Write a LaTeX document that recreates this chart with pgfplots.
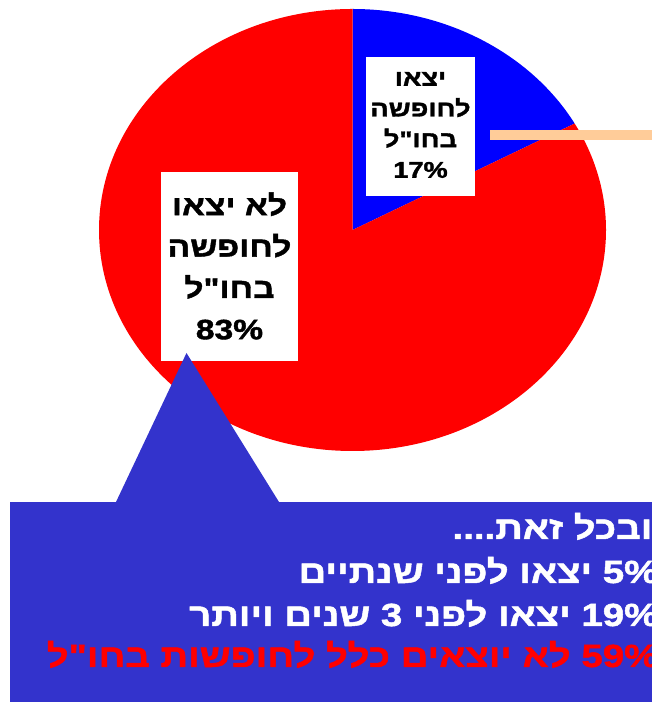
\documentclass[border=0pt]{standalone}
\usepackage{pgfplots}
\pgfplotsset{compat=1.18}
\usepackage{fontspec}
\setmainfont{Liberation Sans}
\newfontfamily\heb[Script=Hebrew, FakeStretch=1.2, FakeBold=1.5]{Liberation Sans Bold}
\TeXXeTstate=1
\definecolor{pieRed}{RGB}{255,0,0}
\definecolor{pieBlue}{RGB}{0,0,255}
\definecolor{boxBlue}{RGB}{51,51,204}
\definecolor{pointer}{RGB}{255,204,153}

% slice shares (percent)
\def\went{17}
\def\notwent{83}

\begin{document}
\begin{tikzpicture}
\begin{axis}[
  name=ax, at={(0,0)}, anchor=south west,
  scale only axis, width=489pt, height=526.5pt,
  xmin=0, xmax=652, ymin=0, ymax=702,
  hide axis, clip=true,
]
% pie: centre (352.5,472), radii 253.5 x 221 (axis units)
\fill[pieBlue] (axis cs:352.5,472) -- (axis cs:352.5,693)
  arc[start angle=90, delta angle=-\went*3.6, x radius=253.5, y radius=221] -- cycle;
\fill[pieRed] (axis cs:352.5,472) -- (axis cs:352.5,693)
  arc[start angle=90, delta angle=\notwent*3.6, x radius=253.5, y radius=221] -- cycle;

% pointer line
\draw[pointer, line width=7.5pt] (axis cs:490,567) -- (axis cs:700,567);

% label boxes
\fill[white] (axis cs:366,506) rectangle (axis cs:475,645);
\node[font=\heb\fontsize{17}{23}\selectfont, align=center, text=black]
  at (axis cs:420.5,577)
  {\beginR יצאו\endR\\ \beginR לחופשה\endR\\ \beginR בחו"ל\endR\\ 17\%};

\fill[white] (axis cs:161,341) rectangle (axis cs:298,530);
\node[font=\heb\fontsize{21}{31}\selectfont, align=center, text=black]
  at (axis cs:229.5,436)
  {\beginR לא יצאו\endR\\ \beginR לחופשה\endR\\ \beginR בחו"ל\endR\\ 83\%};

% callout
\fill[boxBlue] (axis cs:186.5,349) -- (axis cs:116,200) -- (axis cs:279,200) -- cycle;
\fill[boxBlue] (axis cs:10,0) rectangle (axis cs:700,200);

\begin{scope}[every node/.style={anchor=base east, font=\heb\fontsize{24}{31}\selectfont}]
\node[text=white] at (axis cs:657,163) {\beginR ובכל זאת....\endR};
\node[text=white] at (axis cs:663,119) {\beginR\beginL 5\%\endL{} יצאו לפני שנתיים\endR};
\node[text=white] at (axis cs:663,76) {\beginR\beginL 19\%\endL{} יצאו לפני 3 שנים ויותר\endR};
\node[text=pieRed] at (axis cs:663,35) {\beginR\beginL 59\%\endL{} לא יוצאים כלל לחופשות בחו"ל\endR};
\end{scope}
\end{axis}
\pgfresetboundingbox
\path[use as bounding box] (0,0) rectangle (489pt,526.5pt);
\end{tikzpicture}
\end{document}
